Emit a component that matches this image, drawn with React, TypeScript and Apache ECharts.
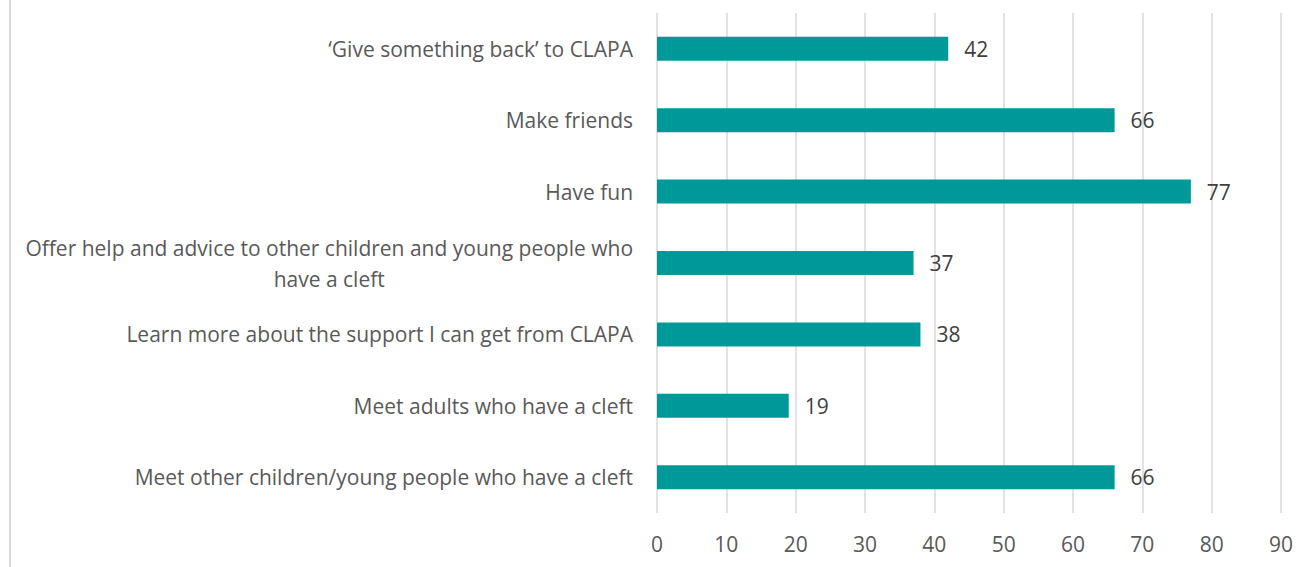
import React, { useEffect, useRef } from "react";
import * as echarts from "echarts";

const categories = [
  "Meet other children/young people who have a cleft",
  "Meet adults who have a cleft",
  "Learn more about the support I can get from CLAPA",
  "Offer help and advice to other children and young people who\nhave a cleft",
  "Have fun",
  "Make friends",
  "\u2018Give something back\u2019 to CLAPA",
];
const values = [66, 19, 38, 37, 77, 66, 42];
const xMin = 0;
const xMax = 90;
const xInterval = 10;

const FONT = "'Open Sans', sans-serif";
const FS = 21;

export default function App() {
  const ref = useRef<HTMLDivElement>(null);
  useEffect(() => {
    if (!ref.current) return;
    const chart = echarts.init(ref.current, undefined, { renderer: "svg" });
    chart.setOption({
      animation: false,
      backgroundColor: "#ffffff",
      textStyle: { fontFamily: FONT },
      grid: { left: 657, right: 29, top: 13, bottom: 54, containLabel: false },
      graphic: [
        {
          type: "line",
          shape: { x1: 10, y1: 0, x2: 10, y2: 567 },
          style: { stroke: "#d9d9d9", lineWidth: 2 },
        },
      ],
      xAxis: {
        type: "value",
        min: xMin,
        max: xMax,
        interval: xInterval,
        axisLine: { show: false },
        axisTick: { show: false },
        axisLabel: { color: "#595959", fontSize: FS, margin: 20, fontFamily: FONT },
        splitLine: { show: true, lineStyle: { color: "#d9d9d9", width: 1.5 } },
      },
      yAxis: {
        type: "category",
        data: categories,
        axisLine: { show: false },
        axisTick: { show: false },
        axisLabel: {
          color: "#595959",
          fontSize: FS,
          margin: 24,
          fontFamily: FONT,
          lineHeight: 31,
          formatter: (v: string) =>
            v
              .split("\n")
              .map((l) => `{a|${l}}`)
              .join("\n"),
          rich: {
            a: { align: "center", color: "#595959", fontSize: FS, fontFamily: FONT, lineHeight: 31 },
          },
        },
      },
      series: [
        {
          type: "bar",
          data: values,
          barWidth: 24,
          itemStyle: { color: "#009999" },
          label: {
            show: true,
            position: "right",
            distance: 16,
            color: "#404040",
            fontSize: FS,
            fontFamily: FONT,
          },
        },
      ],
    });
    return () => chart.dispose();
  }, []);
  return (
    <div
      ref={ref}
      style={{ position: "fixed", left: 0, top: 0, width: 1310, height: 567 }}
    />
  );
}
